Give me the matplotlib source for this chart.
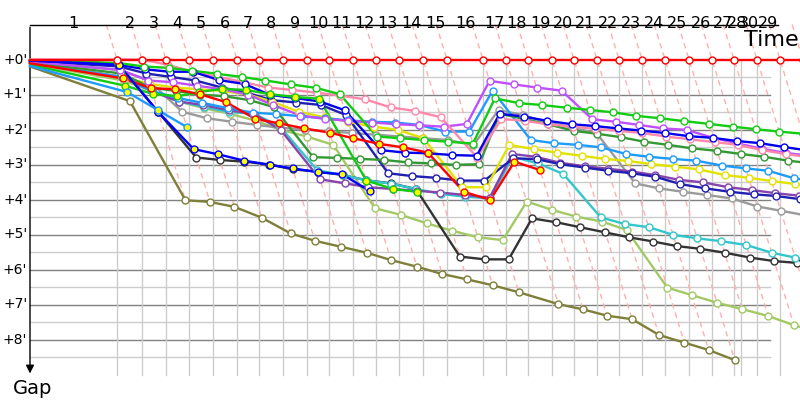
import matplotlib
matplotlib.use("Agg")
import matplotlib.pyplot as plt
import numpy as np

# ---------------- data ----------------
# leader cumulative time (minutes) at the end of each stage
stage_times = [8.06, 10.37, 12.59, 14.72, 16.94, 19.17, 21.20, 23.43, 25.65, 27.69,
               29.91, 32.04, 34.17, 36.39, 38.61, 41.94, 44.07, 46.11, 48.33, 50.37,
               52.50, 54.54, 56.67, 58.80, 61.02, 63.15, 65.19, 67.31, 69.44, 71.57]
stage_labels = ["1", "2", "3", "4", "5", "6", "7", "8", "9", "10", "11", "12", "13", "14",
                "15", "16", "17", "18", "19", "20", "21", "22", "23", "24", "25", "26",
                "27", "28", "30", "29"]
label_bounds = [8.06, 10.37, 12.59, 14.72, 16.94, 19.17, 21.20, 23.43, 25.65, 27.69,
                29.91, 32.04, 34.17, 36.39, 38.61, 41.94, 44.07, 46.11, 48.33, 50.37,
                52.50, 54.54, 56.67, 58.80, 61.02, 63.15, 65.19, 65.83, 67.31, 69.44]
extra_grid = [65.83]
gap_ticks = [0, 1, 2, 3, 4, 5, 6, 7, 8]

leader = [0.0] * 30
pink = [0.0, 0.0, 0.15, 0.35, 0.5, 0.65, 0.8, 0.87, 0.95, 1.03, 1.14, 1.37, 1.47, 1.65, 2.8,
        1.7, 1.75, 1.85, 1.92, 1.98, 2.04, 2.1, 2.2, 2.28, 2.36, 2.44, 2.59, 2.7, 2.8]
green = [0.1, 0.2, 0.24, 0.32, 0.41, 0.5, 0.6, 0.71, 0.81, 0.99, 2.2, 2.25, 2.3, 2.35, 2.4,
         1.11, 1.25, 1.3, 1.38, 1.44, 1.51, 1.61, 1.68, 1.76, 1.84, 1.92, 1.99, 2.06, 2.12]
green_y = [0.75, 0.98, 1.05, 0.93, 0.84, 0.87, 0.99, 1.07, 1.12, 3.46, 3.7, 3.78]
blue = [0.15, 0.28, 0.35, 0.35, 0.59, 0.7, 1.01, 1.1, 1.2, 1.45, 2.59, 2.66, 2.68, 2.73, 2.75,
        1.55, 1.63, 1.75, 1.85, 1.9, 1.97, 2.03, 2.1, 2.19, 2.24, 2.33, 2.39, 2.5, 2.6]
navy = [0.2, 0.4, 0.5, 0.6, 0.8, 0.95, 1.16, 1.23, 1.3, 1.59, 3.25, 3.33, 3.38, 3.46, 3.46,
        2.82, 2.85, 2.99, 3.09, 3.18, 3.25, 3.35, 3.56, 3.68, 3.78, 3.85, 3.9, 3.99, 4.05]
blue_y = [0.15, 1.5, 2.56, 2.71, 2.89, 3.01, 3.11, 3.22, 3.28, 3.76]
black = [0.12, 1.5, 2.8, 2.87, 2.92, 3.0, 3.14, 3.2, 3.3, 3.45, 3.54, 3.7, 5.63, 5.71, 5.71,
         4.54, 4.65, 4.79, 4.94, 5.08, 5.2, 5.33, 5.41, 5.52, 5.66, 5.76, 5.81, 5.95, 6.05]
olive = [1.19, 4.02, 4.07, 4.21, 4.52, 4.97, 5.18, 5.35, 5.52, 5.73, 5.92, 6.13, 6.28, 6.45,
         6.65, 6.99, 7.14, 7.32, 7.42, 7.87, 8.09, 8.3, 8.59]
lblue_a = [0.93, 1.44, 1.93]
red2 = [0.54, 0.82, 0.85, 0.99, 1.22, 1.7, 1.82, 1.97, 2.09, 2.25, 2.41, 2.51, 2.66, 3.78,
        4.01, 2.92, 3.16]
yellow = [0.5, 0.7, 0.8, 0.85, 0.9, 1.0, 1.2, 1.5, 1.65, 1.78, 1.92, 2.01, 2.25, 3.65, 3.65,
          2.44, 2.56, 2.66, 2.75, 2.84, 2.9, 2.99, 3.06, 3.14, 3.3, 3.38, 3.47, 3.56, 3.65]
lblue = [0.5, 0.9, 1.1, 1.24, 1.39, 1.52, 1.56, 1.62, 1.68, 1.74, 1.78, 1.8, 1.87, 2.06, 2.06,
         0.89, 2.3, 2.39, 2.44, 2.51, 2.7, 2.78, 2.84, 2.89, 3.03, 3.11, 3.18, 3.39, 3.5]
cyan = [0.5, 0.9, 1.2, 1.35, 1.5, 1.55, 1.9, 3.16, 3.3, 3.45, 3.55, 3.7, 3.84, 3.92, 3.97,
        2.78, 2.97, 3.27, 4.51, 4.7, 4.79, 5.01, 5.11, 5.19, 5.3, 5.52, 5.66, 5.8, 5.9]
purple = [0.5, 0.9, 1.2, 1.3, 1.45, 1.55, 2.01, 3.42, 3.54, 3.65, 3.7, 3.75, 3.8, 3.87, 3.95,
          2.7, 2.78, 2.95, 3.05, 3.12, 3.2, 3.3, 3.44, 3.51, 3.65, 3.73, 3.82, 3.89, 3.95]
gray = [0.3, 0.6, 1.49, 1.68, 1.78, 1.87, 1.95, 2.0, 2.05, 2.1, 2.15, 2.2, 2.25, 2.3, 2.45,
        1.44, 1.59, 1.8, 1.95, 2.11, 3.54, 3.68, 3.78, 3.87, 3.97, 4.2, 4.32, 4.45, 4.55]
lgreen = [0.6, 0.9, 1.2, 1.39, 1.55, 1.75, 2.01, 2.2, 2.44, 4.25, 4.44, 4.68, 4.89, 5.08,
          5.16, 4.06, 4.3, 4.49, 4.63, 4.87, 6.52, 6.73, 6.95, 7.13, 7.33, 7.59, 7.8]
dgreen = [0.4, 0.8, 0.9, 1.0, 1.05, 1.16, 1.36, 2.79, 2.81, 2.84, 2.87, 2.94, 2.97, 3.01, 2.99,
          1.55, 1.7, 1.85, 2.04, 2.12, 2.22, 2.35, 2.44, 2.54, 2.61, 2.7, 2.78, 2.89, 2.97]
violet = [0.3, 0.6, 0.65, 0.75, 0.85, 1.0, 1.3, 1.6, 1.7, 1.75, 1.8, 1.85, 1.88, 1.92, 1.84,
          0.61, 0.71, 0.8, 0.89, 1.71, 1.78, 1.87, 1.97, 2.01, 2.24, 2.4, 2.55, 2.67, 2.75]

# (values, colour, marker face)
riders = [
    (olive, "#7f7f3a", "white"),
    (lgreen, "#a3c966", "white"),
    (black, "#333333", "white"),
    (cyan, "#33c6cc", "white"),
    (gray, "#9a9a9a", "white"),
    (purple, "#8844aa", "white"),
    (navy, "#2020b0", "white"),
    (yellow, "#e2e200", "white"),
    (lblue, "#1e9bff", "white"),
    (dgreen, "#339933", "white"),
    (violet, "#c050ff", "white"),
    (pink, "#ff88aa", "white"),
    (blue, "#0000ee", "white"),
    (green, "#11cc11", "white"),
    (green_y, "#11cc11", "#ffff00"),
    (red2, "#ff0000", "#ffff00"),
    (blue_y, "#0000ff", "#ffff00"),
    (lblue_a, "#1e9bff", "#ffff00"),
    (leader, "#ff0000", "white"),
]

# ---------------- figure ----------------
W, H = 800, 400
PXX, PXY, X0, Y0 = 10.8, 35.0, 30.0, 59.5
fig = plt.figure(figsize=(W / 100, H / 100), dpi=100)
ax = fig.add_axes([0, 0, 1, 1])
ax.set_xlim(-X0 / PXX, (W - X0) / PXX)
ax.set_ylim((H - Y0) / PXY, -Y0 / PXY)
ax.axis("off")

xr = (770 - X0) / PXX
ybot = 9.0
for g in np.arange(0.5, 9.0, 0.5):
    major = abs(g - round(g)) < 1e-6
    ax.plot([0, xr], [g, g], color="#808080" if major else "#cccccc", lw=1.0, zorder=1)
for t in list(stage_times[:-1]) + extra_grid:
    ax.plot([t, t], [0, ybot], color="#cccccc", lw=1.0, zorder=1)

series = [r[0] for r in riders]
for i, t in enumerate(stage_times):
    vals = [s[i] for s in series if i < len(s) and s[i] is not None]
    gmax = max(vals) if vals else 0
    ax.plot([t - 1, t + gmax], [-1, gmax], color="#ffb0b0", lw=1.0, ls=(0, (4, 3)), zorder=2)

ax.plot([0, (778 - X0) / PXX], [-1, -1], color="black", lw=1.0, zorder=5)
ax.annotate("", xy=(0, 9.05), xytext=(0, -1),
            arrowprops=dict(arrowstyle="-|>", color="black", lw=1.0, mutation_scale=12), zorder=5)

prev = 0.0
for lab, t in zip(stage_labels, label_bounds):
    ax.text((prev + t) / 2, (27.5 - Y0) / PXY, lab, ha="center", va="baseline", fontsize=11.5,
            family="DejaVu Sans", zorder=6)
    prev = t
for g in gap_ticks:
    ax.text(-0.25, g, "+%d'" % g, ha="right", va="center", fontsize=10, family="DejaVu Sans")
ax.text((800 - X0) / PXX - 0.1, (40 - Y0) / PXY, "Time", ha="right", va="center", fontsize=16,
        family="DejaVu Sans")
ax.text(-1.6, (388 - Y0) / PXY, "Gap", ha="left", va="center", fontsize=14,
        family="DejaVu Sans")

for vals, col, face in riders:
    xs, ys = [0.0], [min(0.2, vals[0] * 0.2)]
    for i, g in enumerate(vals):
        if g is None:
            continue
        xs.append(stage_times[i] + g)
        ys.append(g)
    ax.plot(xs, ys, color=col, lw=1.7, zorder=10, solid_joinstyle="round")
    ax.plot(xs[1:], ys[1:], ls="none", marker="o", ms=5, mfc=face, mec=col, mew=1.0,
            zorder=11)

fig.savefig("out.png", dpi=100)
